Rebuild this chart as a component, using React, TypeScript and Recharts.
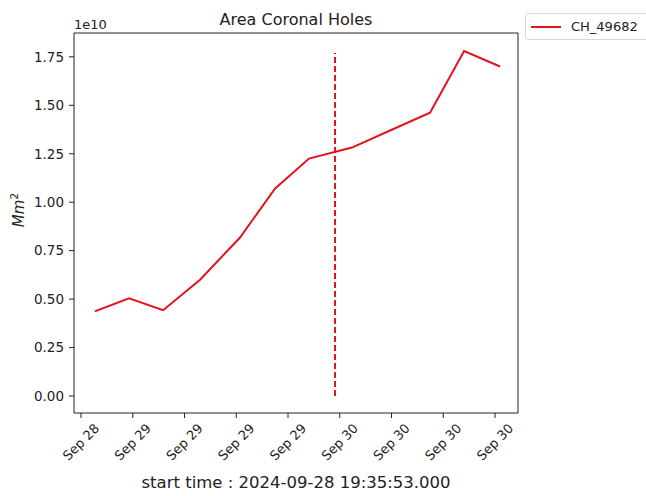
import React from 'react';
import { LineChart, Line, XAxis, YAxis, ReferenceLine, Legend } from 'recharts';

// observation times (UTC) and coronal hole area in units of 1e10 Mm^2
const TIMES = [
  '2024-09-28T19:36:00Z',
  '2024-09-28T23:34:00Z',
  '2024-09-29T03:31:00Z',
  '2024-09-29T07:48:00Z',
  '2024-09-29T12:26:00Z',
  '2024-09-29T16:29:00Z',
  '2024-09-29T20:26:00Z',
  '2024-09-30T01:25:00Z',
  '2024-09-30T05:50:00Z',
  '2024-09-30T10:28:00Z',
  '2024-09-30T14:25:00Z',
  '2024-09-30T18:35:00Z',
];
const AREAS = [0.437, 0.504, 0.443, 0.6, 0.818, 1.07, 1.225, 1.282, 1.37, 1.462, 1.78, 1.7];

const X_TICKS = [
  '2024-09-28T18:00:00Z',
  '2024-09-29T00:00:00Z',
  '2024-09-29T06:00:00Z',
  '2024-09-29T12:00:00Z',
  '2024-09-29T18:00:00Z',
  '2024-09-30T00:00:00Z',
  '2024-09-30T06:00:00Z',
  '2024-09-30T12:00:00Z',
  '2024-09-30T18:00:00Z',
];
const X_DOMAIN = ['2024-09-28T17:11:00Z', '2024-09-30T20:40:00Z'];
const Y_TICKS = [0, 0.25, 0.5, 0.75, 1.0, 1.25, 1.5, 1.75];
const Y_DOMAIN = [-0.0875, 1.873];

const MARKER_TIME = '2024-09-29T23:27:00Z';
const MARKER_RANGE = [0, 1.77];

const SERIES_NAME = 'CH_49682';
const TITLE = 'Area Coronal Holes';
const X_LABEL = 'start time : 2024-09-28 19:35:53.000';

const SCALE = 1e10;
const RED = '#e3121f';
const INK = '#222';
const FONT = '"DejaVu Sans", sans-serif';

const data = TIMES.map((t, i) => ({ t: Date.parse(t), area: AREAS[i] * SCALE }));
const xTicks = X_TICKS.map((t) => Date.parse(t));
const xDomain = X_DOMAIN.map((t) => Date.parse(t));
const yTicks = Y_TICKS.map((v) => v * SCALE);
const yDomain = Y_DOMAIN.map((v) => v * SCALE);
const markerX = Date.parse(MARKER_TIME);

const MONTHS = ['Jan', 'Feb', 'Mar', 'Apr', 'May', 'Jun', 'Jul', 'Aug', 'Sep', 'Oct', 'Nov', 'Dec'];
const fmtDate = (ms: number) => {
  const d = new Date(ms);
  return `${MONTHS[d.getUTCMonth()]} ${String(d.getUTCDate()).padStart(2, '0')}`;
};

const XTick = (props: any) => {
  const { x, y, payload } = props;
  return (
    <g transform={`translate(${x},${y + 22})`}>
      <text
        transform="rotate(-45)"
        textAnchor="middle"
        dominantBaseline="central"
        fill={INK}
        fontSize={13}
        fontFamily={FONT}
      >
        {fmtDate(payload.value)}
      </text>
    </g>
  );
};

const LegendBox = () => (
  <div
    style={{
      display: 'flex',
      alignItems: 'center',
      boxSizing: 'border-box',
      width: 130,
      height: 27,
      border: '1px solid #d8d8d8',
      borderRadius: 3,
      background: '#fff',
      fontFamily: FONT,
      fontSize: 13,
      color: INK,
    }}
  >
    <span style={{ display: 'inline-block', width: 30, height: 2, background: RED, marginLeft: 5, marginRight: 10 }} />
    <span>{SERIES_NAME}</span>
  </div>
);

export default function App() {
  return (
    <div style={{ position: 'absolute', left: 0, top: 0, width: 646, height: 496, overflow: 'hidden', background: '#fff' }}>
      <LineChart width={646} height={496} data={data} margin={{ top: 0, right: 127, bottom: 0, left: 0 }}>
        <XAxis
          xAxisId="b"
          dataKey="t"
          type="number"
          domain={xDomain}
          allowDataOverflow
          ticks={xTicks}
          interval={0}
          height={83}
          tickSize={5}
          tickMargin={2}
          stroke={INK}
          tick={<XTick />}
          label={{
            content: () => (
              <text x={296} y={488} textAnchor="middle" fill={INK} fontSize={16.5} fontFamily={FONT}>
                {X_LABEL}
              </text>
            ),
          }}
        />
        <XAxis
          xAxisId="top"
          orientation="top"
          type="number"
          domain={xDomain}
          allowDataOverflow
          height={33}
          tick={false}
          tickLine={false}
          stroke={INK}
          label={{
            content: () => (
              <text x={296} y={25} textAnchor="middle" fill={INK} fontSize={16} fontFamily={FONT}>
                {TITLE}
              </text>
            ),
          }}
        />
        <YAxis
          yAxisId="l"
          type="number"
          domain={yDomain}
          allowDataOverflow
          ticks={yTicks}
          interval={0}
          width={74}
          tickSize={5}
          tickMargin={5}
          stroke={INK}
          tick={{ fill: INK, fontSize: 13.5, fontFamily: FONT }}
          tickFormatter={(v: number) => (v / SCALE).toFixed(2)}
          label={{
            content: () => (
              <text
                transform="translate(24,210) rotate(-90)"
                textAnchor="middle"
                fill={INK}
                fontSize={15}
                fontFamily={FONT}
                fontStyle="italic"
              >
                Mm<tspan dy={-6} fontSize={10.5} fontStyle="normal">2</tspan>
              </text>
            ),
          }}
        />
        <YAxis
          yAxisId="r"
          orientation="right"
          type="number"
          domain={yDomain}
          allowDataOverflow
          width={1}
          tick={false}
          tickLine={false}
          stroke={INK}
          label={{
            content: () => (
              <text x={74} y={29} fill={INK} fontSize={13} fontFamily={FONT}>
                1e10
              </text>
            ),
          }}
        />
        <Line
          xAxisId="b"
          yAxisId="l"
          dataKey="area"
          name={SERIES_NAME}
          type="linear"
          stroke={RED}
          strokeWidth={2}
          dot={false}
          isAnimationActive={false}
        />
        <ReferenceLine
          xAxisId="b"
          yAxisId="l"
          segment={[
            { x: markerX, y: MARKER_RANGE[0] * SCALE },
            { x: markerX, y: MARKER_RANGE[1] * SCALE },
          ]}
          stroke={RED}
          strokeWidth={2}
          strokeDasharray="6 3"
        />
        <Legend
          layout="horizontal"
          verticalAlign="middle"
          align="center"
          wrapperStyle={{ left: 525, top: 13, width: 130 }}
          content={() => <LegendBox />}
        />
      </LineChart>
    </div>
  );
}
